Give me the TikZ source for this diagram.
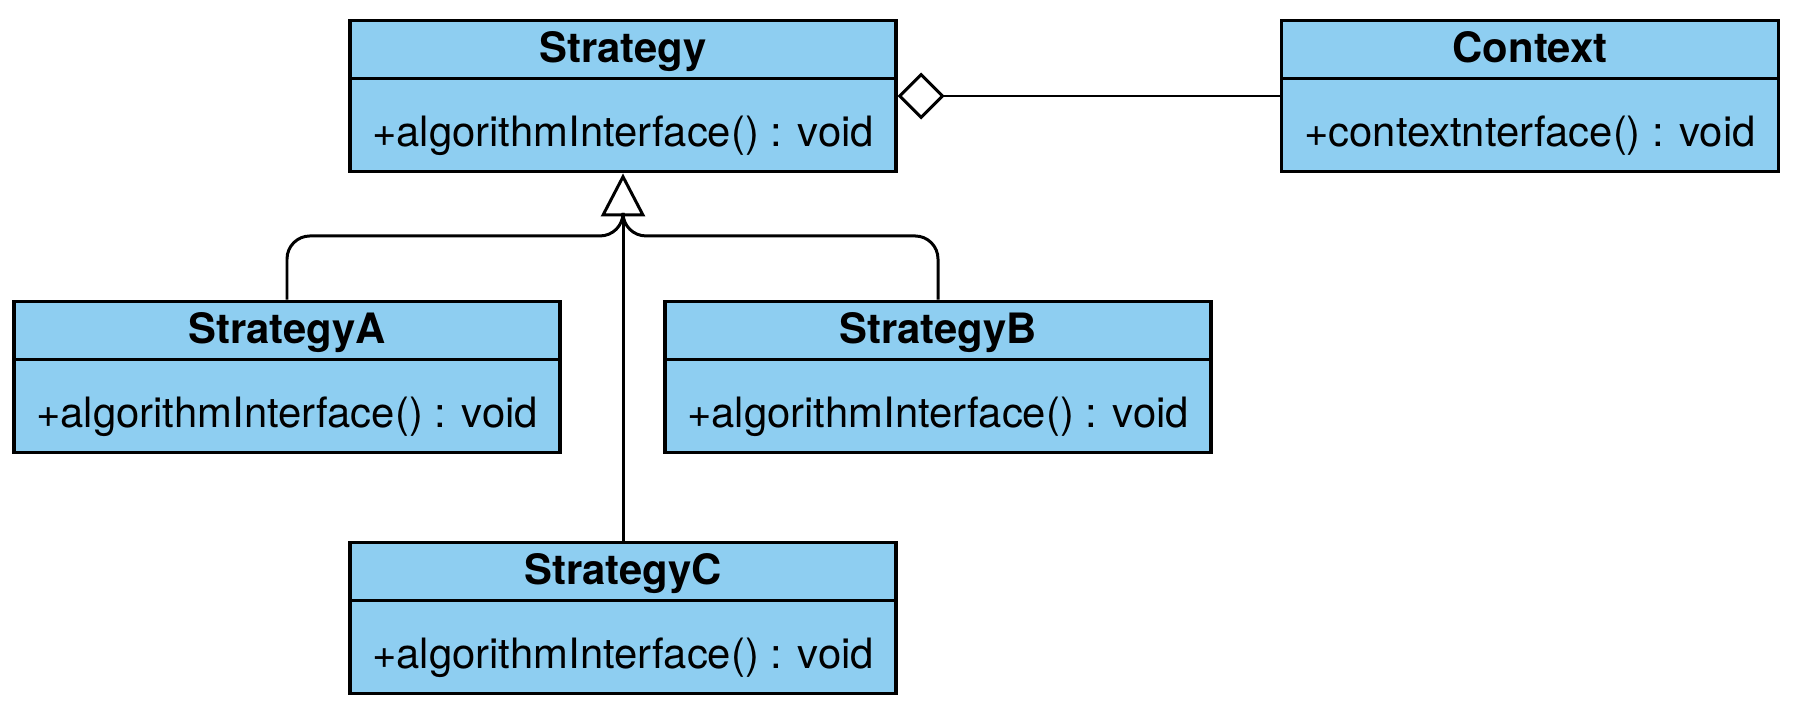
\documentclass[tikz,border=0pt]{standalone}
\usepackage{fontspec}
\setmainfont{TeX Gyre Heros}
\usetikzlibrary{shapes.multipart,arrows.meta}
\definecolor{umlblue}{RGB}{142,206,241}
\newcommand{\headstrut}{\rule[-0.145cm]{0pt}{0.549cm}}
\newcommand{\bodystrut}{\rule[-0.237cm]{0pt}{0.905cm}}

\begin{document}
\begin{tikzpicture}[umlclass/.style={rectangle split, rectangle split parts=2, draw, line width=0.9pt, fill=umlblue, inner xsep=0pt, inner ysep=0pt, minimum width=5.46cm, font=\fontsize{11.9}{14}\selectfont},
  link/.style={line width=0.85pt}]
\useasboundingbox (0,0) rectangle (17.96,7.12);
\node[umlclass] (strategy) at (6.23,6.16) {\headstrut\textbf{Strategy}\nodepart{second}\bodystrut+algorithmInterface() : void};
\node[umlclass, minimum width=4.97cm] (context) at (15.30,6.16) {\headstrut\textbf{Context}\nodepart{second}\bodystrut+contextnterface() : void};
\node[umlclass] (stratA) at (2.87,3.35) {\headstrut\textbf{StrategyA}\nodepart{second}\bodystrut+algorithmInterface() : void};
\node[umlclass] (stratB) at (9.38,3.35) {\headstrut\textbf{StrategyB}\nodepart{second}\bodystrut+algorithmInterface() : void};
\node[umlclass] (stratC) at (6.23,0.94) {\headstrut\textbf{StrategyC}\nodepart{second}\bodystrut+algorithmInterface() : void};

\coordinate (fork) at ([yshift=-4.45mm]strategy.south);
\coordinate (bend) at ([yshift=-1.8mm]fork);
\draw[link, -{Triangle[open,length=4.3mm,width=4.4mm]}] (stratC.north) -- (strategy.south);
\draw[link] (stratA.north) [rounded corners=2.3mm] |- (bend) [rounded corners=1.3mm] -- (fork);
\draw[link] (stratB.north) [rounded corners=2.3mm] |- (bend) [rounded corners=1.3mm] -- (fork);
\draw[link, -{Diamond[open,length=4.7mm,width=4.7mm]}] (context.west) -- (strategy.east);
\end{tikzpicture}
\end{document}
